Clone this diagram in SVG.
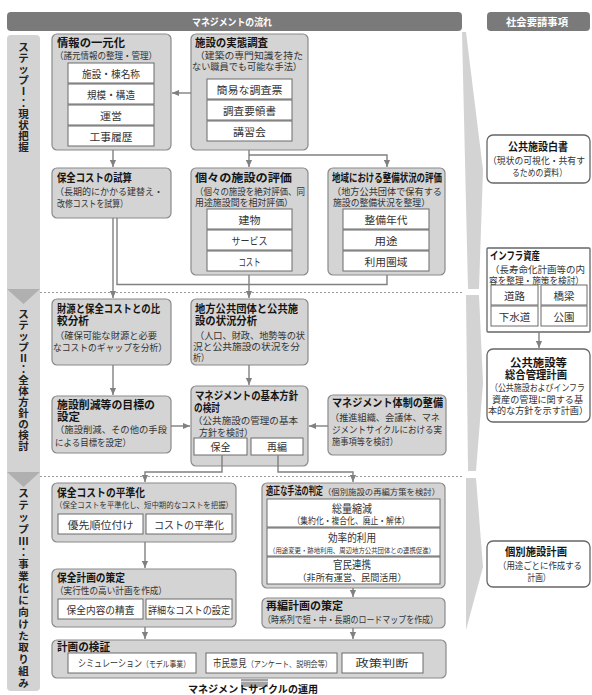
<svg xmlns="http://www.w3.org/2000/svg" width="592" height="695" viewBox="0 0 592 695">
<defs>
<style>
text{font-family:"Noto Sans CJK JP","Noto Sans CJK SC",sans-serif}
.nb{fill:#d4d4d4;stroke:#8a8a8a;stroke-width:1.2}
.ib{fill:#fff;stroke:#6a6a6a;stroke-width:1}
.rb{fill:#fff;stroke:#666;stroke-width:1.3}
.t{font-size:11px;font-weight:700;fill:#151515}
.s{font-size:9.5px;fill:#333}
.i{font-size:10.5px;fill:#333;text-anchor:middle}
.m{text-anchor:middle}
.cn{fill:none;stroke:#808080;stroke-width:1.4}
.a{marker-end:url(#ah)}
.st{font-size:10.5px;font-weight:700;fill:#222;text-anchor:middle}
.hd{font-size:10px;font-weight:700;fill:#fff;text-anchor:middle}
.hb{fill:#7a7a7a}
.sc{fill:#d3d3d3}
.sv{fill:#b0b0b0}
.dot{stroke:#9a9a9a;stroke-width:1;stroke-dasharray:2 2}
</style>
<marker id="ah" viewBox="0 0 8 8" refX="8" refY="4" markerWidth="7" markerHeight="7" markerUnits="userSpaceOnUse" orient="auto"><path d="M0,0.5 L8,4 L0,7.5 z" fill="#808080"/></marker>
</defs>
<rect width="592" height="695" fill="#fff"/>

<g id="headers">
<rect class="hb" x="7" y="12" width="455" height="19" rx="4"/>
<text class="hd" x="232" y="25.5" textLength="80" lengthAdjust="spacingAndGlyphs">マネジメントの流れ</text>
<rect class="hb" x="487" y="12" width="103" height="19" rx="4"/>
<text class="hd" x="537" y="25.5" textLength="62" lengthAdjust="spacingAndGlyphs">社会要請事項</text>
</g>

<g id="steps">
<path class="sc" d="M7,39 Q7,35 11,35 H36 Q40,35 40,39 V687 Q40,691 36,691 H11 Q7,691 7,687 Z"/>
<polygon class="sv" points="7,289 40,289 23.5,304"/>
<polygon class="sv" points="7,472 40,472 23.5,487"/>
<text class="st"><tspan x="23.5" y="50.5">ス</tspan><tspan x="23.5" y="61.7">テ</tspan><tspan x="23.5" y="72.9">ッ</tspan><tspan x="23.5" y="84.1">プ</tspan><tspan x="23.5" y="95.3">Ⅰ</tspan><tspan x="23.5" y="106.5">：</tspan><tspan x="23.5" y="117.7">現</tspan><tspan x="23.5" y="128.9">状</tspan><tspan x="23.5" y="140.1">把</tspan><tspan x="23.5" y="151.3">握</tspan></text>
<text class="st"><tspan x="23.5" y="318">ス</tspan><tspan x="23.5" y="329">テ</tspan><tspan x="23.5" y="340">ッ</tspan><tspan x="23.5" y="351">プ</tspan><tspan x="23.5" y="362">Ⅱ</tspan><tspan x="23.5" y="373">：</tspan><tspan x="23.5" y="384">全</tspan><tspan x="23.5" y="395">体</tspan><tspan x="23.5" y="406">方</tspan><tspan x="23.5" y="417">針</tspan><tspan x="23.5" y="428">の</tspan><tspan x="23.5" y="439">検</tspan><tspan x="23.5" y="450">討</tspan></text>
<text class="st"><tspan x="23.5" y="497">ス</tspan><tspan x="23.5" y="508.9">テ</tspan><tspan x="23.5" y="520.8">ッ</tspan><tspan x="23.5" y="532.6">プ</tspan><tspan x="23.5" y="544.5">Ⅲ</tspan><tspan x="23.5" y="556.4">：</tspan><tspan x="23.5" y="568.3">事</tspan><tspan x="23.5" y="580.1">業</tspan><tspan x="23.5" y="592">化</tspan><tspan x="23.5" y="603.9">に</tspan><tspan x="23.5" y="615.8">向</tspan><tspan x="23.5" y="627.6">け</tspan><tspan x="23.5" y="639.5">た</tspan><tspan x="23.5" y="651.4">取</tspan><tspan x="23.5" y="663.3">り</tspan><tspan x="23.5" y="675.1">組</tspan><tspan x="23.5" y="687">み</tspan></text>
</g>

<g id="side-arrows">
<polygon class="sc" points="462,32 466,32 483,170 479,289 468,289"/>
<polygon class="sc" points="466,295 479,295 483,383 476,471 468,471"/>
<polygon class="sc" points="466,478 476,478 483,567 466,630"/>
</g>

<g id="separators">
<line class="dot" x1="40" y1="292.5" x2="462" y2="292.5"/>
<line class="dot" x1="40" y1="476.5" x2="462" y2="476.5"/>
</g>

<g id="n-info">
<rect class="nb" x="52" y="34" width="119" height="116" rx="5"/>
<text class="t" x="57" y="47" textLength="68" lengthAdjust="spacingAndGlyphs">情報の一元化</text>
<text class="s" x="55" y="59" textLength="102" lengthAdjust="spacingAndGlyphs">（諸元情報の整理・管理）</text>
<rect class="ib" x="68" y="63" width="86" height="20"/>
<rect class="ib" x="68" y="84" width="86" height="20"/>
<rect class="ib" x="68" y="105" width="86" height="20"/>
<rect class="ib" x="68" y="126" width="86" height="20"/>
<text class="i" x="111" y="77.5" textLength="58" lengthAdjust="spacingAndGlyphs">施設・棟名称</text>
<text class="i" x="111" y="98.5" textLength="48" lengthAdjust="spacingAndGlyphs">規模・構造</text>
<text class="i" x="111" y="119.5" textLength="22" lengthAdjust="spacingAndGlyphs">運営</text>
<text class="i" x="111" y="140.5" textLength="43" lengthAdjust="spacingAndGlyphs">工事履歴</text>
</g>

<g id="n-survey">
<rect class="nb" x="191" y="34" width="117" height="116" rx="5"/>
<text class="t" x="195" y="47" textLength="73" lengthAdjust="spacingAndGlyphs">施設の実態調査</text>
<text class="s" x="195" y="59" textLength="108" lengthAdjust="spacingAndGlyphs">（建築の専門知識を持た</text>
<text class="s" x="192" y="70" textLength="110" lengthAdjust="spacingAndGlyphs">ない職員でも可能な手法）</text>
<rect class="ib" x="207" y="79" width="85" height="20"/>
<rect class="ib" x="207" y="100" width="85" height="20"/>
<rect class="ib" x="207" y="121" width="85" height="20"/>
<text class="i" x="249.5" y="93.5" textLength="66" lengthAdjust="spacingAndGlyphs">簡易な調査票</text>
<text class="i" x="249.5" y="114.5" textLength="53" lengthAdjust="spacingAndGlyphs">調査要領書</text>
<text class="i" x="249.5" y="135.5" textLength="33" lengthAdjust="spacingAndGlyphs">講習会</text>
</g>

<g id="n-costcalc">
<rect class="nb" x="52" y="168" width="119" height="50" rx="5"/>
<text class="t" x="57" y="182" textLength="75" lengthAdjust="spacingAndGlyphs">保全コストの試算</text>
<text class="s" x="55" y="195" textLength="108" lengthAdjust="spacingAndGlyphs">（長期的にかかる建替え・</text>
<text class="s" x="57" y="207" textLength="71" lengthAdjust="spacingAndGlyphs">改修コストを試算）</text>
</g>

<g id="n-eval">
<rect class="nb" x="191" y="168" width="117" height="107" rx="5"/>
<text class="t" x="195" y="182" textLength="97" lengthAdjust="spacingAndGlyphs">個々の施設の評価</text>
<text class="s" x="195" y="195" textLength="110" lengthAdjust="spacingAndGlyphs">（個々の施設を絶対評価、同</text>
<text class="s" x="195" y="206" textLength="98" lengthAdjust="spacingAndGlyphs">用途施設間を相対評価）</text>
<rect class="ib" x="207" y="209" width="85" height="20"/>
<rect class="ib" x="207" y="230" width="85" height="20"/>
<rect class="ib" x="207" y="251" width="85" height="20"/>
<text class="i" x="249.5" y="223.5" textLength="22" lengthAdjust="spacingAndGlyphs">建物</text>
<text class="i" x="249.5" y="244.5" textLength="36" lengthAdjust="spacingAndGlyphs">サービス</text>
<text class="i" x="249.5" y="265.5" textLength="22" lengthAdjust="spacingAndGlyphs">コスト</text>
</g>

<g id="n-region">
<rect class="nb" x="328" y="168" width="117" height="107" rx="5"/>
<text class="t" x="332" y="182" textLength="110" lengthAdjust="spacingAndGlyphs">地域における整備状況の評価</text>
<text class="s" x="332" y="195" textLength="110" lengthAdjust="spacingAndGlyphs">（地方公共団体で保有する</text>
<text class="s" x="333" y="206" textLength="97" lengthAdjust="spacingAndGlyphs">施設の整備状況を整理）</text>
<rect class="ib" x="343" y="209" width="86" height="20"/>
<rect class="ib" x="343" y="230" width="86" height="20"/>
<rect class="ib" x="343" y="251" width="86" height="20"/>
<text class="i" x="386" y="223.5" textLength="43" lengthAdjust="spacingAndGlyphs">整備年代</text>
<text class="i" x="386" y="244.5" textLength="23" lengthAdjust="spacingAndGlyphs">用途</text>
<text class="i" x="386" y="265.5" textLength="43" lengthAdjust="spacingAndGlyphs">利用圏域</text>
</g>

<g id="n-finance">
<rect class="nb" x="52" y="299" width="119" height="66" rx="5"/>
<text class="t" x="57" y="313" textLength="103" lengthAdjust="spacingAndGlyphs">財源と保全コストとの比</text>
<text class="t" x="57" y="325" textLength="32" lengthAdjust="spacingAndGlyphs">較分析</text>
<text class="s" x="55" y="339" textLength="102" lengthAdjust="spacingAndGlyphs">（確保可能な財源と必要</text>
<text class="s" x="53" y="351" textLength="114" lengthAdjust="spacingAndGlyphs">なコストのギャップを分析）</text>
</g>

<g id="n-local">
<rect class="nb" x="191" y="299" width="117" height="66" rx="5"/>
<text class="t" x="195" y="313" textLength="103" lengthAdjust="spacingAndGlyphs">地方公共団体と公共施</text>
<text class="t" x="195" y="325" textLength="62" lengthAdjust="spacingAndGlyphs">設の状況分析</text>
<text class="s" x="195" y="339" textLength="110" lengthAdjust="spacingAndGlyphs">（人口、財政、地勢等の状</text>
<text class="s" x="193" y="350" textLength="107" lengthAdjust="spacingAndGlyphs">況と公共施設の状況を分</text>
<text class="s" x="193" y="361" textLength="16" lengthAdjust="spacingAndGlyphs">析）</text>
</g>

<g id="n-target">
<rect class="nb" x="52" y="396" width="119" height="57" rx="5"/>
<text class="t" x="57" y="409" textLength="98" lengthAdjust="spacingAndGlyphs">施設削減等の目標の</text>
<text class="t" x="57" y="421" textLength="23" lengthAdjust="spacingAndGlyphs">設定</text>
<text class="s" x="55" y="433" textLength="112" lengthAdjust="spacingAndGlyphs">（施設削減、その他の手段</text>
<text class="s" x="55" y="446" textLength="76" lengthAdjust="spacingAndGlyphs">による目標を設定）</text>
</g>

<g id="n-policy">
<rect class="nb" x="191" y="386" width="117" height="80" rx="5"/>
<text class="t" x="195" y="400" textLength="103" lengthAdjust="spacingAndGlyphs">マネジメントの基本方針</text>
<text class="t" x="194" y="411.5" textLength="26" lengthAdjust="spacingAndGlyphs">の検討</text>
<text class="s" x="193" y="424" textLength="105" lengthAdjust="spacingAndGlyphs">（公共施設の管理の基本</text>
<text class="s" x="199" y="436" textLength="54" lengthAdjust="spacingAndGlyphs">方針を検討）</text>
<rect class="ib" x="194" y="438" width="53" height="17"/>
<rect class="ib" x="251" y="438" width="52" height="17"/>
<text class="i" x="220.5" y="451" textLength="20" lengthAdjust="spacingAndGlyphs">保全</text>
<text class="i" x="277" y="451" textLength="20" lengthAdjust="spacingAndGlyphs">再編</text>
</g>

<g id="n-system">
<rect class="nb" x="328" y="395" width="118" height="60" rx="5"/>
<text class="t" x="332" y="407" textLength="111" lengthAdjust="spacingAndGlyphs">マネジメント体制の整備</text>
<text class="s" x="330" y="421" textLength="110" lengthAdjust="spacingAndGlyphs">（推進組織、会議体、マネ</text>
<text class="s" x="332" y="433" textLength="110" lengthAdjust="spacingAndGlyphs">ジメントサイクルにおける実</text>
<text class="s" x="332" y="445" textLength="66" lengthAdjust="spacingAndGlyphs">施事項等を検討）</text>
</g>

<g id="n-level">
<rect class="nb" x="52" y="483" width="184" height="59" rx="5"/>
<text class="t" x="57" y="497" textLength="88" lengthAdjust="spacingAndGlyphs">保全コストの平準化</text>
<text class="s" x="55" y="508" textLength="178" lengthAdjust="spacingAndGlyphs" style="font-size:8px">（保全コストを平準化し、短中期的なコストを把握）</text>
<rect class="ib" x="58" y="514" width="85" height="20"/>
<rect class="ib" x="146" y="514" width="86" height="20"/>
<text class="i" x="100.5" y="528.5" textLength="66" lengthAdjust="spacingAndGlyphs">優先順位付け</text>
<text class="i" x="189" y="528.5" textLength="70" lengthAdjust="spacingAndGlyphs">コストの平準化</text>
</g>

<g id="n-plan">
<rect class="nb" x="52" y="569" width="184" height="58" rx="5"/>
<text class="t" x="57" y="582" textLength="68" lengthAdjust="spacingAndGlyphs">保全計画の策定</text>
<text class="s" x="55" y="594" textLength="112" lengthAdjust="spacingAndGlyphs">（実行性の高い計画を作成）</text>
<rect class="ib" x="58" y="599" width="85" height="20"/>
<rect class="ib" x="146" y="599" width="86" height="20"/>
<text class="i" x="100.5" y="613.5" textLength="68" lengthAdjust="spacingAndGlyphs">保全内容の精査</text>
<text class="i" x="189" y="613.5" textLength="82" lengthAdjust="spacingAndGlyphs">詳細なコストの設定</text>
</g>

<g id="n-method">
<rect class="nb" x="262" y="483" width="183" height="105" rx="5"/>
<text class="t" x="266" y="495" textLength="57" lengthAdjust="spacingAndGlyphs">適正な手法の判定</text>
<text class="s" x="323" y="495" textLength="117" lengthAdjust="spacingAndGlyphs" style="font-size:8px">（個別施設の再編方策を検討）</text>
<rect class="ib" x="267" y="499" width="173" height="28"/>
<rect class="ib" x="267" y="528" width="173" height="28"/>
<rect class="ib" x="267" y="557" width="173" height="27"/>
<text class="i" x="352" y="513" textLength="40" lengthAdjust="spacingAndGlyphs" style="font-size:11px">総量縮減</text>
<text class="s m" x="351" y="523.5" textLength="117" lengthAdjust="spacingAndGlyphs">（集約化・複合化、廃止・解体）</text>
<text class="i" x="352" y="541.5" textLength="48" lengthAdjust="spacingAndGlyphs" style="font-size:11px">効率的利用</text>
<text class="s m" x="352" y="552.5" textLength="166" lengthAdjust="spacingAndGlyphs" style="font-size:7px">（用途変更・跡地利用、周辺地方公共団体との連携促進）</text>
<text class="i" x="352" y="569" textLength="38" lengthAdjust="spacingAndGlyphs" style="font-size:11px">官民連携</text>
<text class="s m" x="352" y="580.5" textLength="109" lengthAdjust="spacingAndGlyphs">（非所有運営、民間活用）</text>
</g>

<g id="n-reorg">
<rect class="nb" x="262" y="598" width="183" height="30" rx="5"/>
<text class="t" x="266" y="610" textLength="77" lengthAdjust="spacingAndGlyphs">再編計画の策定</text>
<text class="s" x="263" y="623" textLength="175" lengthAdjust="spacingAndGlyphs">（時系列で短・中・長期のロードマップを作成）</text>
</g>

<g id="n-verify">
<rect class="nb" x="52" y="640" width="394" height="38" rx="5"/>
<text class="t" x="57" y="651" textLength="53" lengthAdjust="spacingAndGlyphs">計画の検証</text>
<rect class="ib" x="68" y="653" width="128" height="20"/>
<rect class="ib" x="206" y="653" width="131" height="20"/>
<rect class="ib" x="342" y="653" width="81" height="20"/>
<text class="s m" x="134" y="667" textLength="112" lengthAdjust="spacingAndGlyphs" style="font-size:10px">シミュレーション<tspan style="font-size:8.5px">（モデル事業）</tspan></text>
<text class="s m" x="272.5" y="667" textLength="119" lengthAdjust="spacingAndGlyphs" style="font-size:10px">市民意見<tspan style="font-size:8.5px">（アンケート、説明会等）</tspan></text>
<text class="i" x="382" y="667" textLength="53" lengthAdjust="spacingAndGlyphs">政策判断</text>
</g>

<g id="r-whitepaper">
<rect class="rb" x="487" y="135" width="103" height="48" rx="6"/>
<text class="t m" x="538" y="151" textLength="60" lengthAdjust="spacingAndGlyphs">公共施設白書</text>
<text class="s" x="488" y="164" textLength="97" lengthAdjust="spacingAndGlyphs">（現状の可視化・共有す</text>
<text class="s m" x="539.5" y="175.5" textLength="55" lengthAdjust="spacingAndGlyphs">るための資料）</text>
</g>

<g id="r-infra">
<rect class="rb" x="487" y="248" width="103" height="84" rx="1"/>
<text class="t" x="490" y="260" textLength="50" lengthAdjust="spacingAndGlyphs">インフラ資産</text>
<text class="s" x="490" y="273" textLength="95" lengthAdjust="spacingAndGlyphs">（長寿命化計画等の内</text>
<text class="s" x="489" y="284" textLength="95" lengthAdjust="spacingAndGlyphs">容を整理・施策を検討）</text>
<rect class="ib" x="491" y="285" width="47" height="20"/>
<rect class="ib" x="541" y="285" width="46" height="20"/>
<rect class="ib" x="491" y="306" width="47" height="20"/>
<rect class="ib" x="541" y="306" width="46" height="20"/>
<text class="i" x="514.5" y="299.5">道路</text>
<text class="i" x="564" y="299.5">橋梁</text>
<text class="i" x="514.5" y="320.5">下水道</text>
<text class="i" x="564" y="320.5">公園</text>
</g>

<g id="r-master">
<rect class="rb" x="487" y="349" width="103" height="73" rx="6"/>
<text class="t m" x="538.5" y="367" textLength="57" lengthAdjust="spacingAndGlyphs">公共施設等</text>
<text class="t m" x="536" y="378.5" textLength="62" lengthAdjust="spacingAndGlyphs">総合管理計画</text>
<text class="s" x="490" y="391" textLength="95" lengthAdjust="spacingAndGlyphs">（公共施設およびインフラ</text>
<text class="s" x="492" y="402.5" textLength="91" lengthAdjust="spacingAndGlyphs">資産の管理に関する基</text>
<text class="s" x="488" y="414" textLength="100" lengthAdjust="spacingAndGlyphs">本的な方針を示す計画）</text>
</g>

<g id="r-individual">
<rect class="rb" x="487" y="541" width="103" height="46" rx="6"/>
<text class="t m" x="536" y="556" textLength="62" lengthAdjust="spacingAndGlyphs">個別施設計画</text>
<text class="s" x="498" y="569" textLength="84" lengthAdjust="spacingAndGlyphs">（用途ごとに作成する</text>
<text class="s m" x="539" y="580.5" textLength="23" lengthAdjust="spacingAndGlyphs">計画）</text>
</g>

<g id="connectors">
<path class="cn a" d="M191,93 H172"/>
<path class="cn a" d="M113,150 V167"/>
<path class="cn a" d="M249,150 V167"/>
<path class="cn a" d="M249,155 H387 V167"/>
<path class="cn a" d="M113,218 V298"/>
<path class="cn" d="M117,218 V284.5 H387 V275"/>
<path class="cn a" d="M249,275 V298"/>
<path class="cn a" d="M113,365 V395"/>
<path class="cn a" d="M249,365 V385"/>
<path class="cn a" d="M171,426 H190"/>
<path class="cn a" d="M328,426 H309"/>
<path class="cn a" d="M222,455 V472 H145 V482"/>
<path class="cn a" d="M278,455 V472 H353 V482"/>
<path class="cn a" d="M145,542 V568"/>
<path class="cn a" d="M353,588 V597"/>
<path class="cn a" d="M145,627 V639"/>
<path class="cn a" d="M353,628 V639"/>
<path class="cn a" d="M539,332 V348"/>
</g>

<g id="caption">
<rect x="241" y="679" width="27" height="8" fill="#a3a3a3"/>
<line x1="241" y1="681.5" x2="268" y2="681.5" stroke="#d8d8d8" stroke-width="1"/>
<text class="t" x="188" y="693" textLength="130" lengthAdjust="spacingAndGlyphs" style="font-size:10px">マネジメントサイクルの運用</text>
</g>
</svg>
